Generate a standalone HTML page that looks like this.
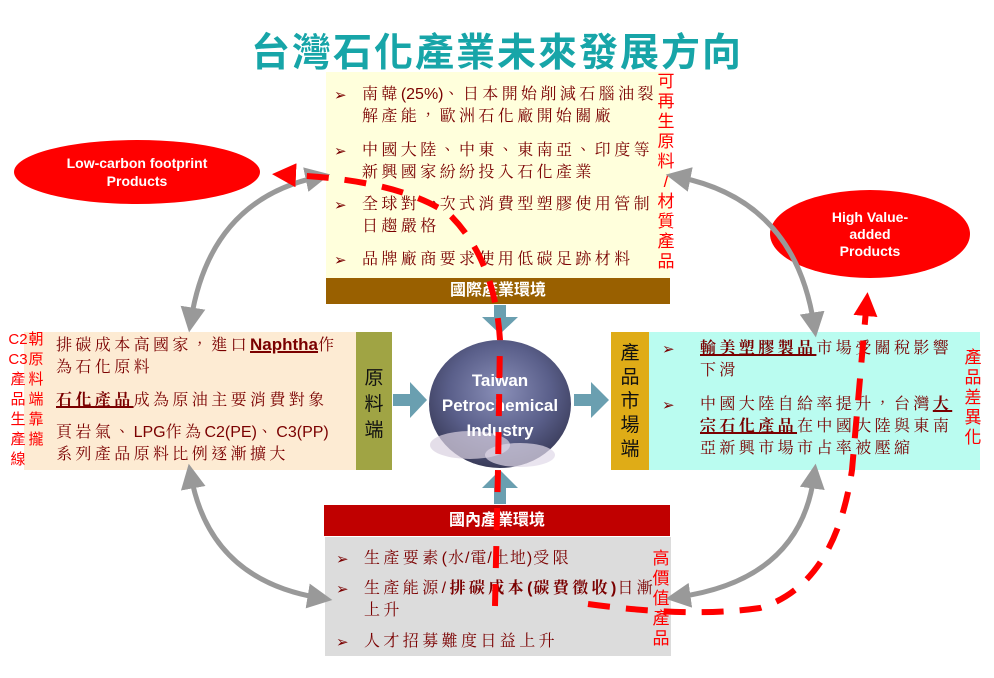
<!DOCTYPE html>
<html><head><meta charset="utf-8"><style>
body{margin:0;width:994px;height:678px;background:#fff;position:relative;overflow:hidden;font-family:"Liberation Sans","Noto Sans CJK TC",sans-serif}
.a{position:absolute}
.t{position:absolute;font-family:"Liberation Sans","Noto Serif CJK TC","Noto Serif CJK SC",serif;color:#7a0000;font-size:16px;letter-spacing:3.4px;white-space:nowrap;line-height:22px}
.l{letter-spacing:0;font-family:"Liberation Sans",sans-serif}
.b{font-size:15px;color:#7a0000;font-family:"DejaVu Sans",sans-serif}
.v{position:absolute;color:#ff0000;font-size:17px;line-height:20px;width:20px;text-align:center;font-family:"Liberation Sans","Noto Sans CJK TC",sans-serif}
u{text-decoration:underline;text-decoration-thickness:2px}
</style></head><body>
<div class="a" style="left:0;width:994px;top:22px;text-align:center;font-size:39px;font-weight:bold;color:#17a5a8;letter-spacing:2px">台灣石化產業未來發展方向</div>

<div class="a" style="left:326px;top:72px;width:344px;height:206px;background:#ffffdc"></div>
<div class="a" style="left:326px;top:278px;width:344px;height:26px;background:#996000;color:#fff;font-weight:bold;font-size:16px;text-align:center;line-height:26px">國際產業環境</div>
<div class="t" style="left:334px;top:84px"><span class="b">➢</span></div>
<div class="t" style="left:362px;top:84px">南韓<span class="l">(25%)</span>、日本開始削減石腦油裂<br>解產能，歐洲石化廠開始關廠</div>
<div class="t" style="left:334px;top:140px"><span class="b">➢</span></div>
<div class="t" style="left:362px;top:140px">中國大陸、中東、東南亞、印度等<br>新興國家紛紛投入石化產業</div>
<div class="t" style="left:334px;top:194px"><span class="b">➢</span></div>
<div class="t" style="left:362px;top:194px">全球對一次式消費型塑膠使用管制<br>日趨嚴格</div>
<div class="t" style="left:334px;top:249px"><span class="b">➢</span></div>
<div class="t" style="left:362px;top:249px">品牌廠商要求使用低碳足跡材料</div>
<div class="v" style="left:656px;top:72px">可<br>再<br>生<br>原<br>料<br>/<br>材<br>質<br>產<br>品</div>

<div class="a" style="left:24px;top:332px;width:332px;height:138px;background:#fdebd3"></div>
<div class="a" style="left:356px;top:332px;width:36px;height:138px;background:#a0a444;color:#111;font-size:19px;line-height:26px;text-align:center;padding-top:34px;box-sizing:border-box">原<br>料<br>端</div>
<div class="t" style="left:56px;top:334px">排碳成本高國家，進口<u class="l" style="font-weight:bold;font-size:17px">Naphtha</u>作<br>為石化原料</div>
<div class="t" style="left:56px;top:390px"><u style="font-weight:bold">石化產品</u>成為原油主要消費對象</div>
<div class="t" style="left:56px;top:422px">頁岩氣、<span class="l">LPG</span>作為<span class="l">C2(PE)</span>、<span class="l">C3(PP)</span><br>系列產品原料比例逐漸擴大</div>
<div class="v" style="left:8px;top:330px;font-size:15px">C2<br>C3<br>產<br>品<br>生<br>產<br>線</div>
<div class="v" style="left:26px;top:330px;font-size:15px">朝<br>原<br>料<br>端<br>靠<br>攏</div>

<div class="a" style="left:611px;top:332px;width:38px;height:138px;background:#dfac17;color:#111;font-size:19px;line-height:24px;text-align:center;padding-top:10px;box-sizing:border-box">產<br>品<br>市<br>場<br>端</div>
<div class="a" style="left:649px;top:332px;width:331px;height:138px;background:#bafcf0"></div>
<div class="t" style="left:662px;top:338px"><span class="b">➢</span></div>
<div class="t" style="left:700px;top:338px"><u style="font-weight:bold">輸美塑膠製品</u>市場受關稅影響<br>下滑</div>
<div class="t" style="left:662px;top:394px"><span class="b">➢</span></div>
<div class="t" style="left:700px;top:394px">中國大陸自給率提升，台灣<u style="font-weight:bold">大</u><br><u style="font-weight:bold">宗石化產品</u>在中國大陸與東南<br>亞新興市場市占率被壓縮</div>
<div class="v" style="left:963px;top:348px">產<br>品<br>差<br>異<br>化</div>

<div class="a" style="left:324px;top:505px;width:346px;height:31px;background:#c00000;color:#fff;font-weight:bold;font-size:16px;text-align:center;line-height:31px">國內產業環境</div>
<div class="a" style="left:325px;top:537px;width:346px;height:119px;background:#dcdcdc"></div>
<div class="t" style="left:336px;top:548px"><span class="b">➢</span></div>
<div class="t" style="left:364px;top:548px">生產要素<span style="letter-spacing:1px">(水/電/土地)</span>受限</div>
<div class="t" style="left:336px;top:578px"><span class="b">➢</span></div>
<div class="t" style="left:364px;top:578px">生產能源/<b>排碳成本<span style="letter-spacing:1px">(</span>碳費徵收<span style="letter-spacing:1px">)</span></b>日漸<br>上升</div>
<div class="t" style="left:336px;top:631px"><span class="b">➢</span></div>
<div class="t" style="left:364px;top:631px">人才招募難度日益上升</div>
<div class="v" style="left:651px;top:549px">高<br>價<br>值<br>產<br>品</div>

<svg class="a" style="left:0;top:0" width="994" height="678">
<defs>
<radialGradient id="g" cx="50%" cy="40%" r="60%"><stop offset="0" stop-color="#8a8fb8"/><stop offset="0.6" stop-color="#5a5f8a"/><stop offset="1" stop-color="#3a3c5a"/></radialGradient>
<marker id="ga" markerWidth="5" markerHeight="5" refX="2.5" refY="2.5" orient="auto-start-reverse" markerUnits="strokeWidth"><path d="M0,0 L5,2.5 L0,5 z" fill="#999"/></marker>
<marker id="ra" markerWidth="4" markerHeight="4" refX="1" refY="2" orient="auto" markerUnits="strokeWidth"><path d="M0,0 L4,2 L0,4 z" fill="#f00"/></marker>
</defs>
<ellipse cx="137" cy="172" rx="123" ry="32" fill="#f00"/>
<text x="137" y="168" fill="#fff" font-size="14" font-weight="bold" text-anchor="middle" font-family="Liberation Sans">Low-carbon footprint</text>
<text x="137" y="186" fill="#fff" font-size="14" font-weight="bold" text-anchor="middle" font-family="Liberation Sans">Products</text>
<ellipse cx="870" cy="234" rx="100" ry="44" fill="#f00"/>
<text x="870" y="222" fill="#fff" font-size="14" font-weight="bold" text-anchor="middle" font-family="Liberation Sans">High Value-</text>
<text x="870" y="239" fill="#fff" font-size="14" font-weight="bold" text-anchor="middle" font-family="Liberation Sans">added</text>
<text x="870" y="256" fill="#fff" font-size="14" font-weight="bold" text-anchor="middle" font-family="Liberation Sans">Products</text>
<ellipse cx="500" cy="404" rx="71" ry="64" fill="url(#g)"/>
<ellipse cx="470" cy="445" rx="40" ry="14" fill="#d8d0e0" opacity="0.7"/>
<ellipse cx="520" cy="455" rx="35" ry="12" fill="#e0d8e8" opacity="0.7"/>
<g fill="#fff" font-size="17" font-weight="bold" text-anchor="middle" font-family="Liberation Sans">
<text x="500" y="386">Taiwan</text><text x="500" y="411">Petrochemical</text><text x="500" y="436">Industry</text></g>
<g fill="#6a9fb0">
<rect x="494" y="305" width="12" height="14"/><path d="M482,317 L518,317 L500,334 z"/>
<rect x="494" y="486" width="12" height="18"/><path d="M482,488 L518,488 L500,470 z"/>
<rect x="393" y="394" width="18" height="12"/><path d="M410,382 L410,418 L427,400 z"/>
<rect x="574" y="394" width="18" height="12"/><path d="M591,382 L591,418 L609,400 z"/>
</g>
<g fill="none" stroke="#999" stroke-width="5" marker-start="url(#ga)" marker-end="url(#ga)">
<path d="M318,177 Q210,200 191,320"/>
<path d="M678,177 Q795,200 814,325"/>
<path d="M191,476 Q210,580 320,598"/>
<path d="M814,476 Q800,580 678,597"/>
</g>
<g fill="none" stroke="#f00" stroke-width="6" stroke-dasharray="22,16">
<path d="M495,606 L498,470 L500,340 Q495,260 450,215 Q400,180 290,175" marker-end="url(#ra)"/>
<path d="M588,604 Q690,618 760,608 Q835,585 852,470 L866,310" marker-end="url(#ra)"/>
</g>
</svg>
</body></html>
